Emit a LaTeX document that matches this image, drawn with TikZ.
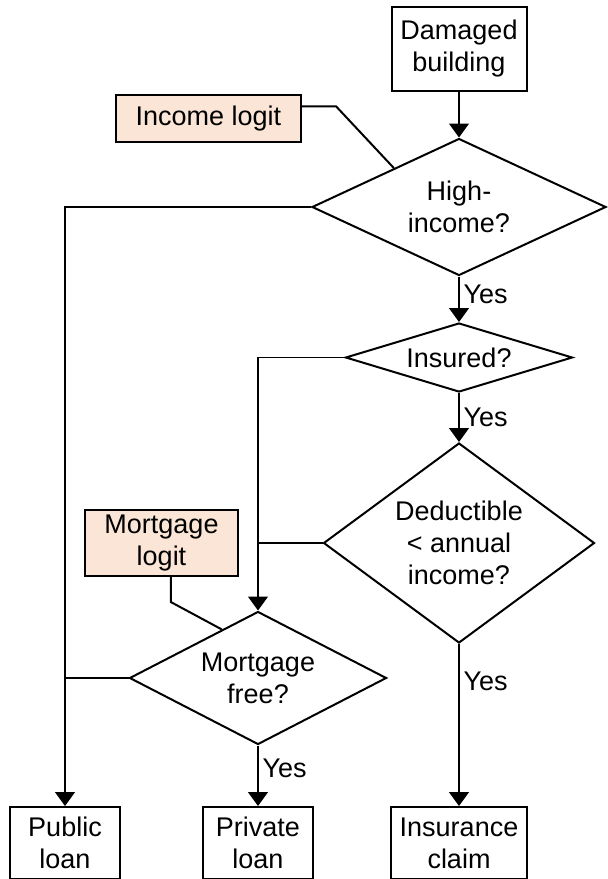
\documentclass[tikz,border=0pt]{standalone}
\usepackage{fontspec}
\setmainfont{Liberation Sans}
\usetikzlibrary{arrows.meta,shapes.geometric,calc}
\definecolor{logitfill}{HTML}{FBE5D6}

\begin{document}
\begin{tikzpicture}[x=0.5pt, y=-0.5pt,
    font=\fontsize{13.5}{16}\selectfont,
    box/.style={draw, line width=1pt, align=center, inner sep=0pt},
    logit/.style={box, fill=logitfill},
    decision/.style={diamond, draw, line width=1pt, align=center, inner sep=0pt},
    flowline/.style={line width=0.6pt, -{Triangle[width=10pt,length=7pt]}},
    plainline/.style={line width=0.6pt},
    feedline/.style={line width=1pt},
    yeslabel/.style={right, inner sep=2pt}]
    \useasboundingbox (0,0) rectangle (607,879);

    %% Start and inputs
    \node[box, minimum width=67.5pt, minimum height=42pt]
        (damaged) at (459,49) {Damaged\\building};
    \node[logit, minimum width=92.5pt, minimum height=23.5pt]
        (income) at (208.5,118.5) {Income logit};
    \node[logit, minimum width=76.5pt, minimum height=33pt]
        (mortlogit) at (161.5,543) {Mortgage\\logit};

    %% Decisions
    \node[decision, shape aspect=2.15, minimum width=147pt, minimum height=68.5pt]
        (high) at (459,207) {High-\\income?};
    \node[decision, shape aspect=3.29, minimum width=113.5pt, minimum height=34.5pt]
        (insured) at (459,357.5) {Insured?};
    \node[decision, shape aspect=1.36, minimum width=135.5pt, minimum height=100pt]
        (deduct) at (459,543) {Deductible\\< annual\\income?};
    \node[decision, shape aspect=1.93, minimum width=128.5pt, minimum height=66.5pt]
        (mortfree) at (258,678) {Mortgage\\free?};

    %% Outcomes
    \node[box, minimum width=55pt, minimum height=36pt]
        (public) at (65,843) {Public\\loan};
    \node[box, minimum width=55pt, minimum height=36pt]
        (private) at (258,843) {Private\\loan};
    \node[box, minimum width=68pt, minimum height=36pt]
        (claim) at (459,843) {Insurance\\claim};

    %% Main flow
    \draw[flowline] (damaged.south) -- (high.north);
    \draw[flowline] (high.south) -- node[yeslabel, pos=0.4] {Yes} (insured.north);
    \draw[flowline] (insured.south) -- node[yeslabel, pos=0.5] {Yes} (deduct.north);
    \draw[flowline] (deduct.south) -- node[yeslabel, pos=0.23] {Yes} (claim.north);
    \draw[flowline] (mortfree.south) -- node[yeslabel, pos=0.38] {Yes} (private.north);

    %% No branches
    \draw[flowline] (high.west) -| (public.north);
    \draw[flowline] (insured.west) -| (mortfree.north);
    \draw[plainline] (deduct.west) -- (deduct.west -| mortfree.north);
    \draw[plainline] (mortfree.west) -- (mortfree.west -| public.north);

    %% Logit inputs
    \draw[feedline] ($(income.north east)!0.25!(income.south east)$)
        -- ++(34,0) -- ($(high.west)!0.56!(high.north)$);
    \draw[feedline] ($(mortlogit.south west)!0.56!(mortlogit.south east)$)
        -- ++(0,25) -- ($(mortfree.west)!0.72!(mortfree.north)$);
\end{tikzpicture}
\end{document}
